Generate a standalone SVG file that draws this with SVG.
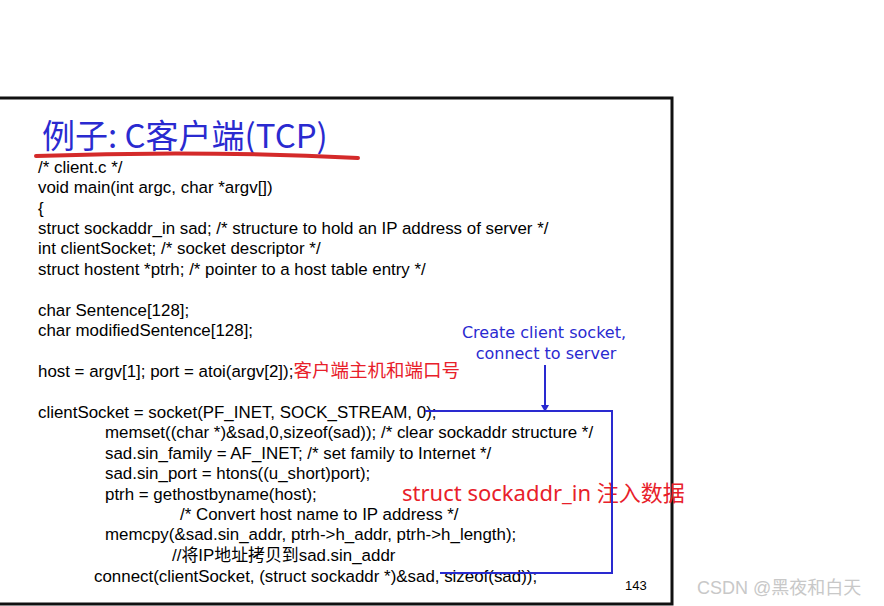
<svg xmlns="http://www.w3.org/2000/svg" width="884" height="606" viewBox="0 0 884 606">
<style>
.c{font-family:"Liberation Sans","Noto Sans CJK SC",sans-serif;font-size:16.9px;fill:#000}
.r{fill:#e8202a}
.b{font-family:"Comic Sans MS","DejaVu Sans","Noto Sans CJK SC",sans-serif;fill:#2a2ad0}
</style>
<rect width="884" height="606" fill="#fff"/>
<g id="slide"><rect x="-2" y="98" width="674" height="506" fill="#fff" stroke="#111" stroke-width="3"/></g>
<g id="title">
<text x="42" y="148" font-size="33" font-family="Noto Sans CJK SC,sans-serif" fill="#2a2ad0">例子: C客户端(TCP)</text>
<path d="M36 156 Q200 150 358 158" stroke="#d42a2a" stroke-width="4" fill="none" stroke-linecap="round"/>
</g>
<g id="code" class="c">
<text x="38" y="173">/* client.c  */</text>
<text x="38" y="193">void main(int argc, char *argv[])</text>
<text x="38" y="214">{</text>
<text x="38" y="234">struct sockaddr_in sad; /* structure to hold an IP address of server */</text>
<text x="38" y="254">int clientSocket; /* socket descriptor */</text>
<text x="38" y="275">struct hostent *ptrh; /* pointer to a host table entry  */</text>
<text x="38" y="316">char Sentence[128];</text>
<text x="38" y="336">char modifiedSentence[128];</text>
<text x="38" y="377">host = argv[1]; port = atoi(argv[2]);<tspan class="r" font-size="18.5">客户端主机和端口号</tspan></text>
<text x="38" y="418">clientSocket = socket(PF_INET, SOCK_STREAM, 0);</text>
<text x="105" y="438">memset((char *)&amp;sad,0,sizeof(sad)); /* clear sockaddr structure */</text>
<text x="105" y="459">sad.sin_family = AF_INET; /* set family to Internet */</text>
<text x="105" y="479">sad.sin_port = htons((u_short)port);</text>
<text x="105" y="500">ptrh = gethostbyname(host);</text>
<text x="180" y="520">/* Convert host name to IP address */</text>
<text x="105" y="540">memcpy(&amp;sad.sin_addr, ptrh-&gt;h_addr, ptrh-&gt;h_length);</text>
<text x="172" y="561">//将IP地址拷贝到sad.sin_addr</text>
<text x="94" y="582">connect(clientSocket, (struct sockaddr *)&amp;sad, sizeof(sad));</text>
<text x="625" y="590" font-size="13">143</text>
</g>
<g id="note1"><text class="b" font-size="16" text-anchor="middle"><tspan x="544" y="338">Create client socket,</tspan><tspan x="546" y="359">connect to server</tspan></text></g>
<g id="note2"><text x="402" y="501" font-family="Noto Sans,Noto Sans CJK SC,sans-serif" font-size="22" fill="#e8202a">struct sockaddr_in 注入数据</text></g>
<g id="connectors" fill="none" stroke="#2a2ad0" stroke-width="2">
<path d="M425 411 H612 V573 H440"/>
<line x1="545" y1="365" x2="545" y2="406"/>
<path d="M541 405 L545 412 L549 405 Z" fill="#2a2ad0" stroke="none"/>
</g>
<text x="697" y="594" font-family="Liberation Sans,Noto Sans CJK SC,sans-serif" font-size="18" fill="#c8c8c8">CSDN @黑夜和白天</text>
</svg>
